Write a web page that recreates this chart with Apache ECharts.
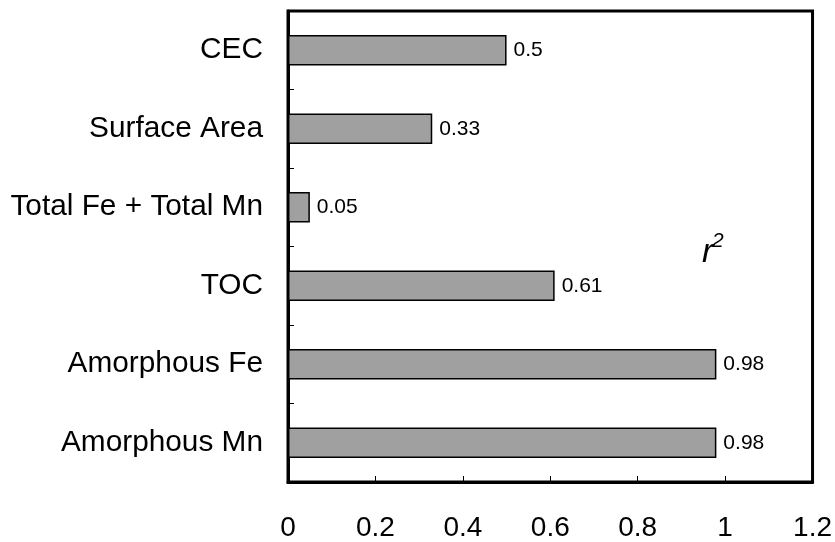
<!DOCTYPE html>
<html><head><meta charset="utf-8">
<script src="https://cdn.jsdelivr.net/npm/echarts@6/dist/echarts.min.js"></script>
<style>html,body{margin:0;padding:0;background:#fff}#c{width:835px;height:542px}</style>
</head><body><div id="c"></div>
<script>
const categories = ["CEC", "Surface Area", "Total Fe + Total Mn", "TOC", "Amorphous Fe", "Amorphous Mn"];
const values = [0.5, 0.33, 0.05, 0.61, 0.98, 0.98];
const xTicks = [0, 0.2, 0.4, 0.6, 0.8, 1, 1.2];

const chart = echarts.init(document.getElementById('c'), null, {renderer: 'canvas'});
const font = 'Liberation Sans, Arial, sans-serif';
chart.setOption({
  animation: false,
  grid: {left: 288, right: 21, top: 11, bottom: 57, show: true, borderColor: '#000', borderWidth: 3, containLabel: false},
  xAxis: {
    type: 'value', min: xTicks[0], max: xTicks[xTicks.length - 1], interval: 0.2,
    axisLine: {show: true, lineStyle: {color: '#000', width: 3}},
    axisTick: {show: true, inside: true, length: 6, lineStyle: {color: '#000', width: 1}},
    splitLine: {show: false},
    axisLabel: {color: '#000', fontSize: 28, fontFamily: font, margin: 32,
      formatter: v => String(parseFloat(v.toFixed(1)))}
  },
  yAxis: {
    type: 'category', data: categories, inverse: true,
    axisLine: {show: true, lineStyle: {color: '#000', width: 3}},
    axisTick: {show: true, inside: true, length: 6, lineStyle: {color: '#000', width: 1}},
    axisLabel: {color: '#000', fontSize: 29.8, fontFamily: font, margin: 25}
  },
  series: [{
    type: 'bar', data: values, barCategoryGap: '61%',
    itemStyle: {color: '#a0a0a0', borderColor: '#000', borderWidth: 1.5},
    label: {show: true, position: 'right', distance: 7, color: '#000', fontSize: 21, fontFamily: font,
      formatter: p => String(p.value)}
  }],
  graphic: [
    {type: 'text', x: 702, y: 236, style: {text: 'r', fontSize: 34, fontStyle: 'italic', fontFamily: font, fill: '#000', textVerticalAlign: 'top'}},
    {type: 'text', x: 712, y: 231, style: {text: '2', fontSize: 21, fontStyle: 'italic', fontFamily: font, fill: '#000', textVerticalAlign: 'top'}}
  ]
});
</script></body></html>
